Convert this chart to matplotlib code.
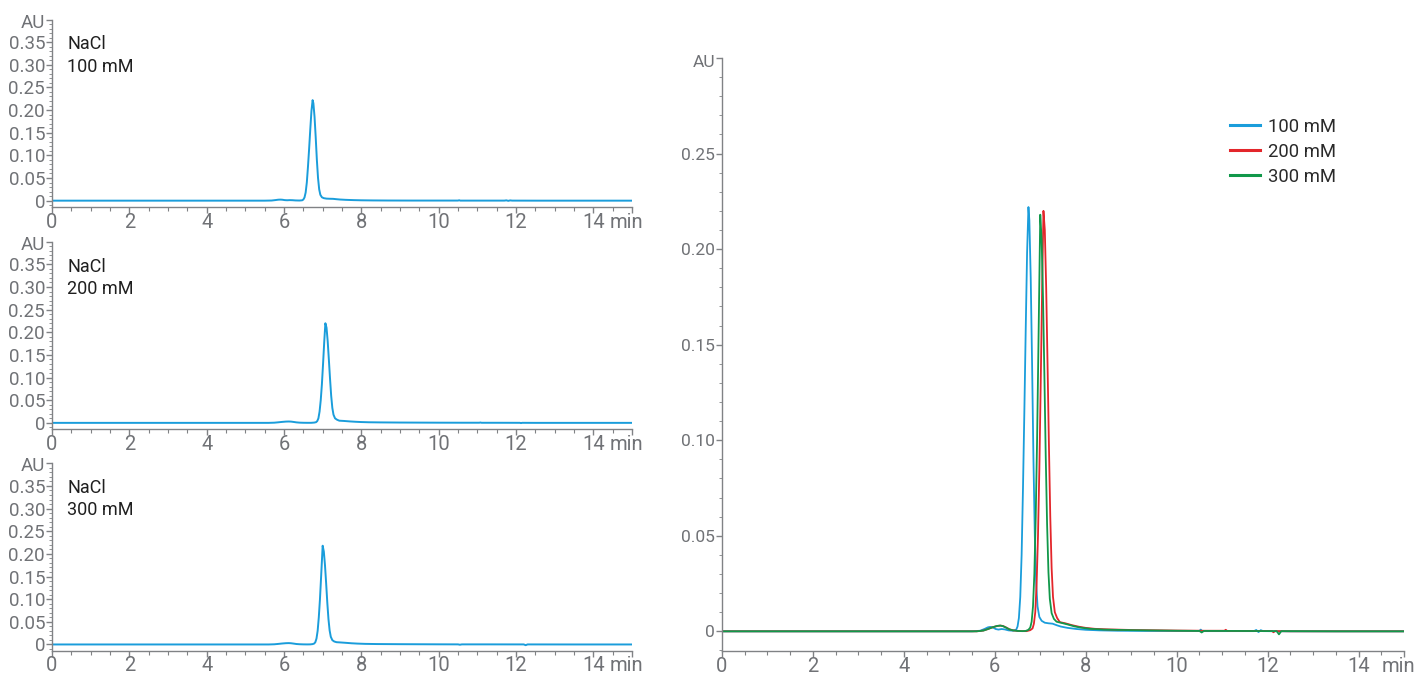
import matplotlib
matplotlib.use("Agg")
import matplotlib.pyplot as plt
import matplotlib.transforms as mtransforms
from matplotlib.ticker import MultipleLocator, FixedLocator

plt.rcParams['font.family'] = ['Roboto', 'DejaVu Sans']

# ---- chromatogram data (retention time in min, absorbance in AU) ----
t_100 = [0.0, 2.0, 4.0, 5.5, 5.68, 5.78, 5.85, 5.9, 5.95, 6.02, 6.08, 6.15, 6.22, 6.3, 6.4,
         6.47, 6.5, 6.53, 6.56, 6.59, 6.62, 6.65, 6.68, 6.71, 6.74, 6.76, 6.79, 6.82,
         6.85, 6.88, 6.91, 6.94, 6.98, 7.03, 7.1, 7.18, 7.27, 7.36, 7.45, 7.6, 7.8,
         8.0, 8.3, 8.7, 9.3, 10.0, 10.5, 10.53, 10.56, 11.0, 11.7, 11.75, 11.8, 11.85,
         11.9, 12.5, 13.5, 15.0]
a_100 = [0.0, 0.0, 0.0, 0.0, 0.0003, 0.0013, 0.0021, 0.0023, 0.0021, 0.0012, 0.0009, 0.0012,
         0.0010, 0.0005, 0.0003, 0.0008, 0.0025, 0.0070, 0.0180, 0.0400, 0.0750, 0.1150,
         0.1580, 0.1980, 0.2220, 0.2150, 0.1850, 0.1400, 0.0900, 0.0500, 0.0250, 0.0130,
         0.0075, 0.0055, 0.0045, 0.0042, 0.0040, 0.0032, 0.0025, 0.0018, 0.0012, 0.0008,
         0.0005, 0.0003, 0.0002, 0.0002, 0.0002, 0.0009, 0.0001, 0.0001, 0.0001, 0.0007,
         -0.0004, 0.0006, 0.0001, 0.0, 0.0, 0.0]

t_200 = [0.0, 2.0, 4.0, 5.6, 5.75, 5.85, 5.95, 6.05, 6.12, 6.18, 6.25, 6.32, 6.4, 6.5,
         6.6, 6.7, 6.78, 6.83, 6.86, 6.89, 6.92, 6.95, 6.98, 7.01, 7.04, 7.07, 7.10,
         7.13, 7.16, 7.19, 7.22, 7.25, 7.28, 7.32, 7.37, 7.43, 7.55, 7.7, 7.85, 8.0,
         8.2, 8.5, 9.0, 10.0, 10.6, 11.05, 11.08, 11.11, 11.5, 12.1, 12.13, 12.16,
         12.5, 13.5, 15.0]
a_200 = [0.0, 0.0, 0.0, 0.0, 0.0004, 0.0012, 0.0021, 0.0028, 0.0030, 0.0028, 0.0020,
         0.0011, 0.0005, 0.0002, 0.0001, 0.0001, 0.0006, 0.0015, 0.0040, 0.0100,
         0.0250, 0.0500, 0.0850, 0.1300, 0.1780, 0.2200, 0.2100, 0.1800, 0.1400,
         0.0980, 0.0600, 0.0330, 0.0180, 0.0100, 0.0070, 0.0048, 0.0042, 0.0032,
         0.0024, 0.0018, 0.0013, 0.0010, 0.0007, 0.0004, 0.0003, 0.0003, 0.0008,
         0.0002, 0.0002, 0.0001, -0.0005, 0.0001, 0.0, 0.0, 0.0]

t_300 = [0.0, 2.0, 4.0, 5.6, 5.75, 5.85, 5.95, 6.05, 6.12, 6.18, 6.25, 6.32, 6.4, 6.5,
         6.6, 6.68, 6.74, 6.78, 6.81, 6.84, 6.87, 6.90, 6.93, 6.96, 7.00, 7.03, 7.06,
         7.09, 7.12, 7.15, 7.18, 7.21, 7.25, 7.30, 7.36, 7.45, 7.6, 7.75, 7.9, 8.1,
         8.4, 9.0, 10.0, 10.5, 10.55, 10.6, 11.2, 12.2, 12.25, 12.3, 13.5, 15.0]
a_300 = [0.0, 0.0, 0.0, 0.0, 0.0004, 0.0012, 0.0021, 0.0028, 0.0030, 0.0027, 0.0019,
         0.0010, 0.0005, 0.0002, 0.0001, 0.0002, 0.0008, 0.0020, 0.0050, 0.0130,
         0.0300, 0.0600, 0.1000, 0.1500, 0.2180, 0.2050, 0.1750, 0.1350, 0.0920,
         0.0560, 0.0310, 0.0170, 0.0095, 0.0065, 0.0050, 0.0045, 0.0036, 0.0026,
         0.0019, 0.0013, 0.0009, 0.0006, 0.0003, 0.0002, -0.0006, 0.0002, 0.0002,
         0.0001, -0.0016, 0.0001, 0.0, 0.0]

series_labels = ["100 mM", "200 mM", "300 mM"]
panel_labels = ["NaCl\n100 mM", "NaCl\n200 mM", "NaCl\n300 mM"]
series_colors = ["#1a9ddb", "#e3262b", "#11984a"]

x_major = [0, 2, 4, 6, 8, 10, 12, 14, 15]
x_major_labels = ["0", "2", "4", "6", "8", "10", "12", "14", "min"]
left_y_major = [0, 0.05, 0.10, 0.15, 0.20, 0.25, 0.30, 0.35, 0.40]
left_y_labels = ["0", "0.05", "0.10", "0.15", "0.20", "0.25", "0.30", "0.35", "AU"]
right_y_major = [0, 0.05, 0.10, 0.15, 0.20, 0.25, 0.30]
right_y_labels = ["0", "0.05", "0.10", "0.15", "0.20", "0.25", "AU"]

AXIS_GREY = "#808285"
TICK_TEXT = "#707276"

W, H = 1414, 675
fig = plt.figure(figsize=(W / 100, H / 100), dpi=100)


def px_axes(left, top, right, bottom):
    return fig.add_axes([left / W, 1 - bottom / H, (right - left) / W, (bottom - top) / H])


def style_axes(ax, yticks, ylabels, ylim, ysize, au_shift):
    ax.set_xlim(0, 15)
    ax.set_ylim(*ylim)
    for s in ("top", "right"):
        ax.spines[s].set_visible(False)
    for s in ("left", "bottom"):
        ax.spines[s].set_color(AXIS_GREY)
        ax.spines[s].set_linewidth(1.0)
    ax.xaxis.set_major_locator(FixedLocator(x_major))
    ax.set_xticklabels(x_major_labels)
    ax.xaxis.set_minor_locator(MultipleLocator(0.5))
    ax.yaxis.set_major_locator(FixedLocator(yticks))
    ax.set_yticklabels(ylabels)
    ax.yaxis.set_minor_locator(MultipleLocator(0.01))
    ax.tick_params(axis="both", which="both", colors=AXIS_GREY, direction="out")
    ax.tick_params(axis="x", which="major", length=4, width=1, pad=0,
                   labelsize=14.5, labelcolor=TICK_TEXT)
    ax.tick_params(axis="x", which="minor", length=3, width=0.8)
    ax.tick_params(axis="y", which="major", length=4, width=1, pad=1,
                   labelsize=ysize, labelcolor=TICK_TEXT)
    ax.tick_params(axis="y", which="minor", length=2, width=0.6)
    # unit labels sit at the axis ends: nudge "min" left and "AU" down slightly
    xt = ax.xaxis.get_major_ticks()[-1].label1
    xt.set_transform(xt.get_transform() +
                     mtransforms.ScaledTranslation(-6 / 100, 0, fig.dpi_scale_trans))
    yt = ax.yaxis.get_major_ticks()[-1].label1
    yt.set_transform(yt.get_transform() +
                     mtransforms.ScaledTranslation(0, -au_shift / 100, fig.dpi_scale_trans))


# ---- three stacked single-run panels ----
panel_data = [(t_100, a_100), (t_200, a_200), (t_300, a_300)]
panel_tops = [19.5, 241.7, 463.3]
for (tt, aa), label, top in zip(panel_data, panel_labels, panel_tops):
    ax = px_axes(52, top, 632, top + 187.5)
    ax.plot(tt, aa, color=series_colors[0], lw=1.4)
    style_axes(ax, left_y_major, left_y_labels, (-0.014, 0.40), 13.5, 1)
    ax.text(0.026, 0.915, label, transform=ax.transAxes, ha="left", va="top",
            fontsize=13, color="#1f1f1f", linespacing=1.3)

# ---- overlay of the three salt concentrations ----
axr = px_axes(722, 58, 1404, 651)
for (tt, aa), lab, col in zip(panel_data, series_labels, series_colors):
    axr.plot(tt, aa, color=col, lw=1.3, label=lab)
style_axes(axr, right_y_major, right_y_labels, (-0.0103, 0.30), 12.5, 3)
leg = axr.legend(loc="upper left", bbox_to_anchor=(0.745, 0.899), frameon=False,
                 borderpad=0, borderaxespad=0, fontsize=13.3, handlelength=1.62,
                 handletextpad=0.42, labelspacing=0.38)
for txt in leg.get_texts():
    txt.set_color("#2a2a2a")
for line in leg.get_lines():
    line.set_linewidth(2.2)

fig.savefig("out.png", dpi=100)
